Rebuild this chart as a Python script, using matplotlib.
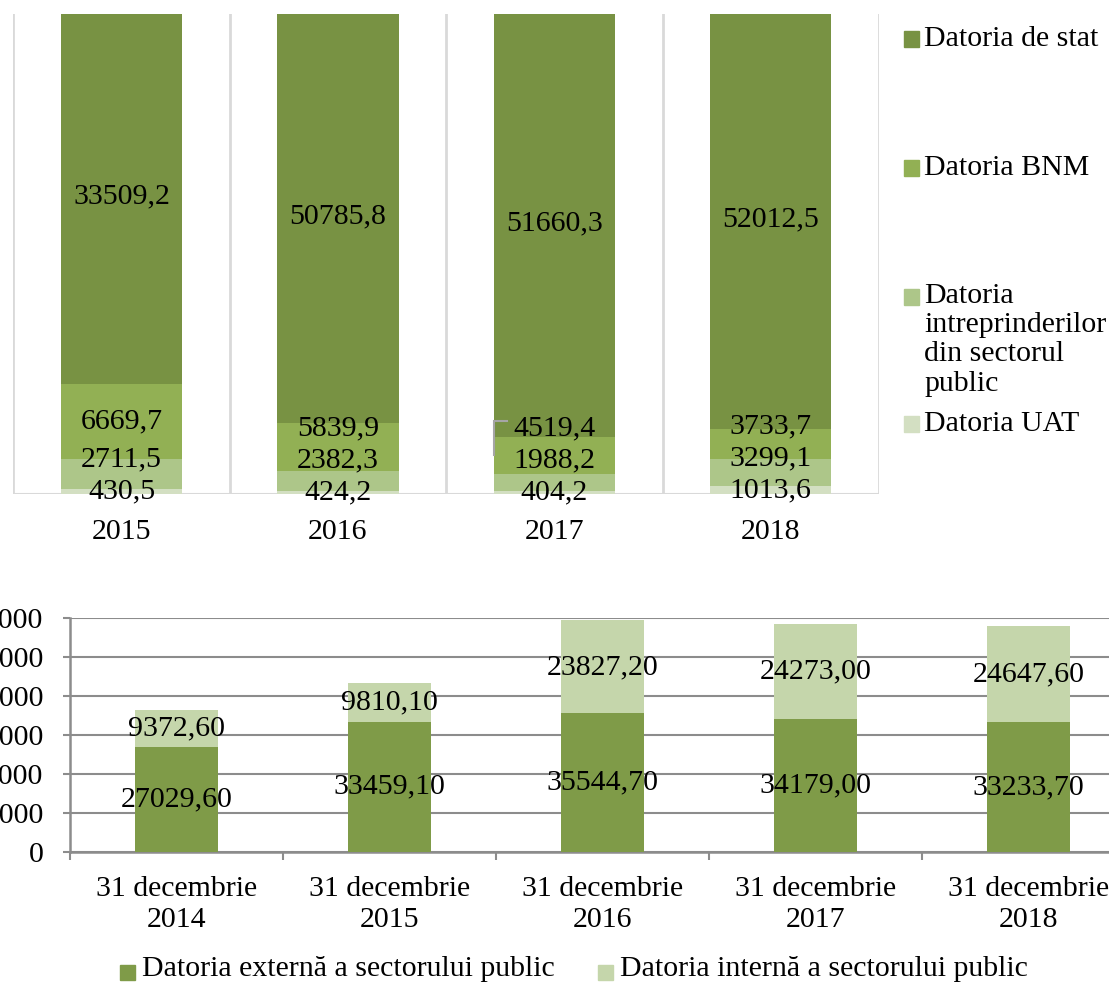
import numpy as np
import matplotlib.pyplot as plt
from matplotlib.patches import Rectangle

plt.rcParams['font.family'] = ['Liberation Serif', 'DejaVu Serif']

# top chart - structura datoriei (100% stacked)
years = ['2015', '2016', '2017', '2018']
datoria_uat = [430.5, 424.2, 404.2, 1013.6]
datoria_intreprinderi = [2711.5, 2382.3, 1988.2, 3299.1]
datoria_bnm = [6669.7, 5839.9, 4519.4, 3733.7]
datoria_stat = [33509.2, 50785.8, 51660.3, 52012.5]

# bottom chart - datoria sectorului public
dates = ['31 decembrie\n2014', '31 decembrie\n2015', '31 decembrie\n2016',
         '31 decembrie\n2017', '31 decembrie\n2018']
datoria_externa = [27029.60, 33459.10, 35544.70, 34179.00, 33233.70]
datoria_interna = [9372.60, 9810.10, 23827.20, 24273.00, 24647.60]

W, H = 1109, 985
FS = 21.5


def fx(px):
    return px / W


def fy(py):
    return 1 - py / H


fig = plt.figure(figsize=(W / 100, H / 100), dpi=100)

# ---------- grafic 1 ----------
top_series = [
    ('Datoria UAT', datoria_uat, '#d3dfc2'),
    ('Datoria\nintreprinderilor\ndin sectorul\npublic', datoria_intreprinderi, '#adc689'),
    ('Datoria BNM', datoria_bnm, '#92b054'),
    ('Datoria de stat', datoria_stat, '#789243'),
]

ax1 = fig.add_axes([fx(13.3), fy(494), fx(879) - fx(13.3), fy(14) - fy(494)])
totals = np.sum([s[1] for s in top_series], axis=0)
x1 = np.arange(len(years))
bw1 = 0.56
bottom = np.zeros(len(years))
centers = []
for name, vals, col in top_series:
    pct = np.array(vals) / totals * 100
    ax1.bar(x1, pct, bw1, bottom=bottom, color=col, zorder=2)
    centers.append(bottom + pct / 2)
    bottom = bottom + pct

# etichete: de jos in sus, fara suprapuneri
gap = 6.6
for i in range(len(years)):
    prev = -np.inf
    for k, (name, vals, col) in enumerate(top_series):
        c = centers[k][i]
        pos = max(c, prev + gap)
        prev = pos
        ax1.text(x1[i], pos, f"{vals[i]:.1f}".replace('.', ','), ha='center',
                 va='center', fontsize=FS, zorder=5)
        if pos - c > 5:
            xl = x1[i] - bw1 / 2
            ax1.plot([xl + 0.06, xl, xl], [pos + 1.5, pos + 1.5, c],
                     color='#a6a6a6', lw=1.5, zorder=4, solid_joinstyle='miter')

ax1.set_xlim(-0.5, len(years) - 0.5)
ax1.set_ylim(0, (494 - 14) / 485 * 100)
for b in np.arange(-0.5, len(years), 1):
    ax1.axvline(b, color='#d9d9d9', lw=2, zorder=1)
ax1.axhline(0, color='#d9d9d9', lw=2.2, zorder=1)
for s in ax1.spines.values():
    s.set_visible(False)
ax1.set_yticks([])
ax1.set_xticks(x1)
ax1.set_xticklabels(years, fontsize=FS)
ax1.tick_params(axis='x', length=0, pad=18)

# legenda grafic 1
leg_items = [
    ('Datoria de stat', '#789243', 39),
    ('Datoria BNM', '#92b054', 168),
    ('Datoria\nintreprinderilor\ndin sectorul\npublic', '#adc689', 297),
    ('Datoria UAT', '#d3dfc2', 424),
]
for label, col, yc in leg_items:
    fig.patches.append(Rectangle((fx(904), fy(yc + 7.5)), fx(15), fy(0) - fy(15),
                                 transform=fig.transFigure, color=col))
    if '\n' in label:
        fig.text(fx(924), fy(yc - 14), label, ha='left', va='top', fontsize=FS,
                 linespacing=1.16)
    else:
        fig.text(fx(924), fy(yc), label, ha='left', va='center', fontsize=FS)

# ---------- grafic 2 ----------
ax2 = fig.add_axes([fx(70), fy(852), fx(1135) - fx(70), fy(618) - fy(852)])
x2 = np.arange(len(dates))
bw2 = 0.394
c_ext = '#7f9b48'
c_int = '#c5d6ab'
ax2.bar(x2, datoria_externa, bw2, color=c_ext, zorder=3)
ax2.bar(x2, datoria_interna, bw2, bottom=datoria_externa, color=c_int, zorder=3)
for i in range(len(dates)):
    e = datoria_externa[i]
    n = datoria_interna[i]
    ax2.text(x2[i], e / 2, f"{e:.2f}".replace('.', ','), ha='center', va='center',
             fontsize=FS, zorder=5)
    ax2.text(x2[i], e + n / 2, f"{n:.2f}".replace('.', ','), ha='center',
             va='center', fontsize=FS, zorder=5)

ax2.set_xlim(-0.5, len(dates) - 0.5)
ax2.set_ylim(0, 60000)
ax2.set_yticks(np.arange(0, 60001, 10000))
ax2.yaxis.grid(True, color='#8c8c8c', lw=1.5, zorder=0)
ax2.set_axisbelow(True)
ax2.tick_params(axis='y', labelsize=FS, length=5, width=1.5, color='#8c8c8c', pad=14)
ax2.set_xticks(x2)
ax2.set_xticklabels(dates, fontsize=FS, linespacing=1.28)
ax2.set_xticks(np.arange(-0.5, len(dates), 1), minor=True)
ax2.tick_params(axis='x', which='major', length=0, pad=17)
ax2.tick_params(axis='x', which='minor', length=6, width=1.5, color='#8c8c8c')
for side in ['top', 'right']:
    ax2.spines[side].set_visible(False)
for side in ['left', 'bottom']:
    ax2.spines[side].set_color('#8c8c8c')
    ax2.spines[side].set_linewidth(1.8)

# legenda grafic 2
for label, col, xs in [('Datoria externă a sectorului public', c_ext, 120),
                       ('Datoria internă a sectorului public', c_int, 598)]:
    fig.patches.append(Rectangle((fx(xs), fy(980)), fx(15), fy(0) - fy(15),
                                 transform=fig.transFigure, color=col))
    fig.text(fx(xs + 22), fy(969), label, ha='left', va='center', fontsize=FS)

fig.savefig('out.png', dpi=100)
